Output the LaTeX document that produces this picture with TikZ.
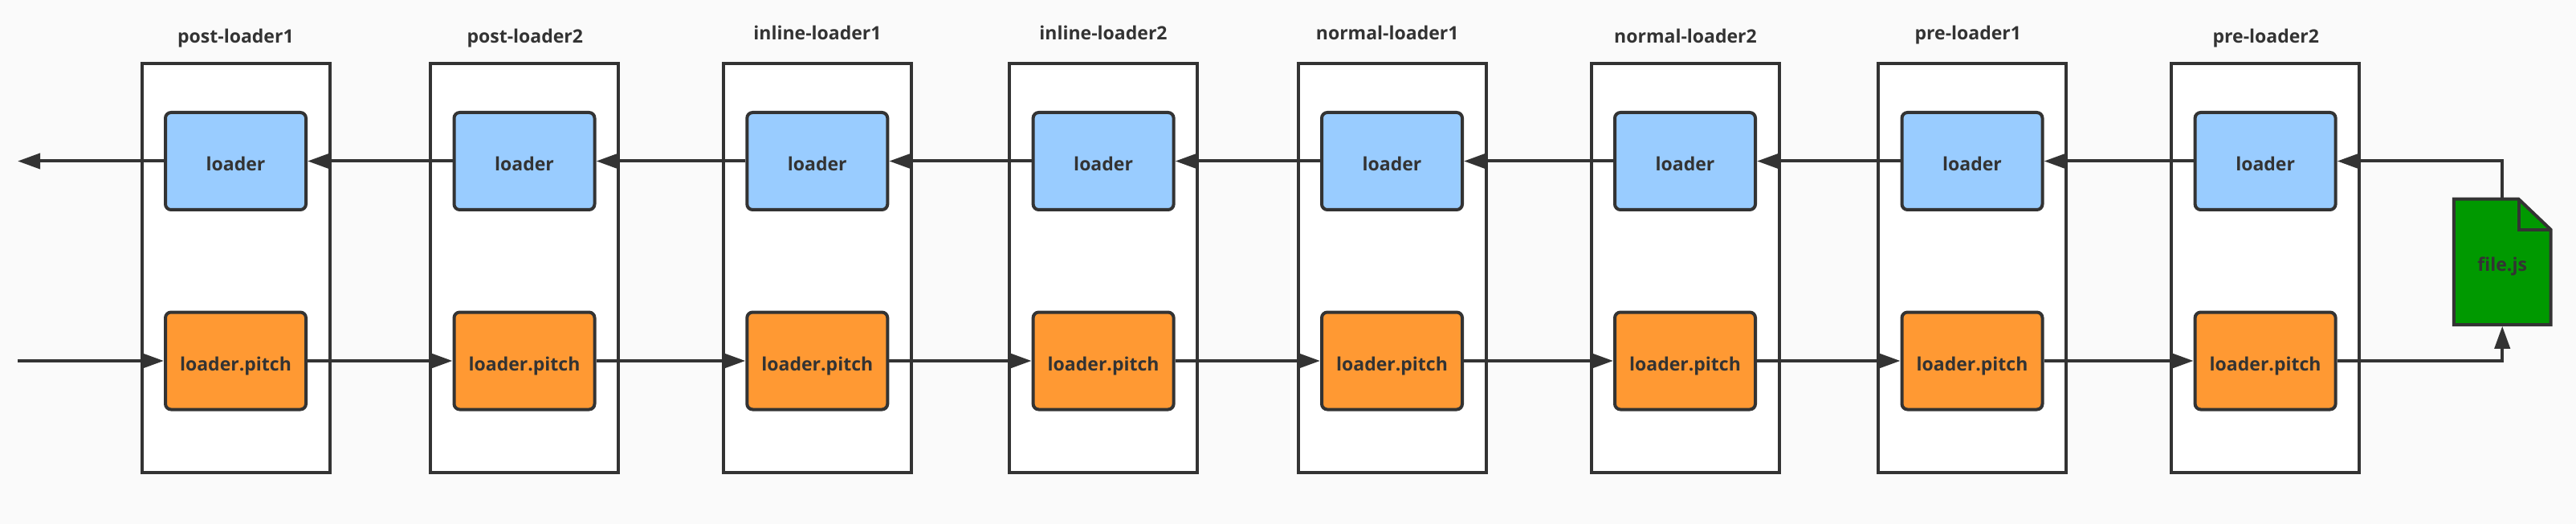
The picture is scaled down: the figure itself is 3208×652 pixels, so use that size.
\documentclass[tikz,border=0pt]{standalone}
\usepackage{fontspec}
\setmainfont{Open Sans}[BoldFont={Open Sans Bold}]
\usetikzlibrary{arrows.meta}
\definecolor{ink}{HTML}{333333}
\definecolor{paper}{HTML}{FAFAFA}
\definecolor{loaderblue}{HTML}{99CCFF}
\definecolor{pitchorange}{HTML}{FF9933}
\definecolor{filegreen}{HTML}{009900}

\begin{document}
\begin{tikzpicture}[x=0.5pt,y=-0.5pt,line width=2pt,draw=ink,text=ink,font=\fontsize{11.5pt}{13pt}\selectfont\bfseries,
    slot/.style={draw,fill=white,minimum width=117pt,minimum height=254pt},
    title/.style={anchor=base,inner sep=0pt},
    loaderbox/.style={draw,rounded corners=3.5pt,minimum width=87.5pt,minimum height=60.5pt,text height=12pt,text depth=0pt,inner sep=0pt},
    plain/.style={loaderbox,fill=loaderblue},
    pitch/.style={loaderbox,fill=pitchorange},
    flow/.style={-{Triangle[length=14pt,width=9.5pt]}}]
\fill[paper] (0,0) rectangle (3208,652);
\useasboundingbox (0,0) rectangle (3208,652);

\node[slot] (post1) at (293.5,333.5) {};
\node[slot] (post2) at (653,333.5) {};
\node[slot] (inline1) at (1017.8,333.5) {};
\node[slot] (inline2) at (1374.1,333.5) {};
\node[slot] (normal1) at (1733.5,333.5) {};
\node[slot] (normal2) at (2098.5,333.5) {};
\node[slot] (pre1) at (2456,333.5) {};
\node[slot] (pre2) at (2821.1,333.5) {};

\node[title] (t-post1) at (293.4,54) {post-loader1};
\node[title] (t-post2) at (653.8,54) {post-loader2};
\node[title] (t-inline1) at (1018,50) {inline-loader1};
\node[title] (t-inline2) at (1374,50) {inline-loader2};
\node[title] (t-normal1) at (1727.7,50) {normal-loader1};
\node[title] (t-normal2) at (2099,54) {normal-loader2};
\node[title] (t-pre1) at (2450.8,50) {pre-loader1};
\node[title] (t-pre2) at (2821.8,54) {pre-loader2};

\node[plain] (l-post1) at (293.5,200.5) {loader};
\node[plain] (l-post2) at (653,200.5) {loader};
\node[plain] (l-inline1) at (1017.8,200.5) {loader};
\node[plain] (l-inline2) at (1374.1,200.5) {loader};
\node[plain] (l-normal1) at (1733.5,200.5) {loader};
\node[plain] (l-normal2) at (2098.5,200.5) {loader};
\node[plain] (l-pre1) at (2456,200.5) {loader};
\node[plain] (l-pre2) at (2821.1,200.5) {loader};

\node[pitch] (p-post1) at (293.5,449) {loader.pitch};
\node[pitch] (p-post2) at (653,449) {loader.pitch};
\node[pitch] (p-inline1) at (1017.8,449) {loader.pitch};
\node[pitch] (p-inline2) at (1374.1,449) {loader.pitch};
\node[pitch] (p-normal1) at (1733.5,449) {loader.pitch};
\node[pitch] (p-normal2) at (2098.5,449) {loader.pitch};
\node[pitch] (p-pre1) at (2456,449) {loader.pitch};
\node[pitch] (p-pre2) at (2821.1,449) {loader.pitch};

\draw[fill=filegreen] (3055.9,247.7)--(3136.5,247.7)--(3176.5,285.7)--(3176.5,404)--(3055.9,404)--cycle;
\draw (3136.5,247.7)--(3136.5,285.7)--(3176.5,285.7);
\node[minimum width=60.3pt,minimum height=78pt,outer sep=1pt,text height=12pt,text depth=0pt,inner sep=0pt] (file) at (3116.2,325.8) {file.js};

\coordinate (start) at (22,449);
\coordinate (end) at (22,200.5);

\draw[flow] (start)--(p-post1.west);
\draw[flow] (p-post1.east)--(p-post2.west);
\draw[flow] (p-post2.east)--(p-inline1.west);
\draw[flow] (p-inline1.east)--(p-inline2.west);
\draw[flow] (p-inline2.east)--(p-normal1.west);
\draw[flow] (p-normal1.east)--(p-normal2.west);
\draw[flow] (p-normal2.east)--(p-pre1.west);
\draw[flow] (p-pre1.east)--(p-pre2.west);
\draw[flow] (p-pre2.east)-|(file.south);

\draw[flow] (file.north)|-(l-pre2.east);
\draw[flow] (l-pre2.west)--(l-pre1.east);
\draw[flow] (l-pre1.west)--(l-normal2.east);
\draw[flow] (l-normal2.west)--(l-normal1.east);
\draw[flow] (l-normal1.west)--(l-inline2.east);
\draw[flow] (l-inline2.west)--(l-inline1.east);
\draw[flow] (l-inline1.west)--(l-post2.east);
\draw[flow] (l-post2.west)--(l-post1.east);
\draw[flow] (l-post1.west)--(end);
\end{tikzpicture}
\end{document}
